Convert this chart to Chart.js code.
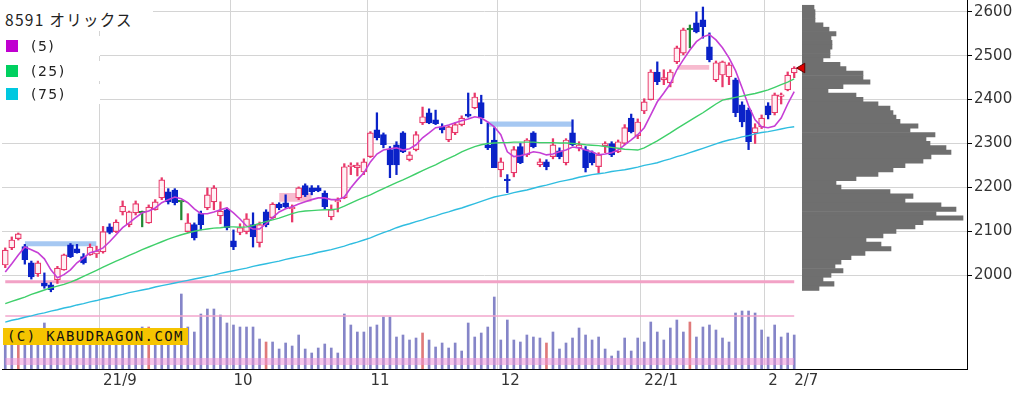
<!DOCTYPE html>
<html><head><meta charset="utf-8">
<script src="https://cdn.jsdelivr.net/npm/chart.js@4.4.1/dist/chart.umd.min.js"></script>
<style>
html,body{margin:0;padding:0;background:#fff;}
#wrap{position:relative;width:1025px;height:398px;overflow:hidden;background:#fff;}
#main{position:absolute;left:0;top:0;}
#prof{position:absolute;left:790px;top:0;}
#legend{position:absolute;left:0;top:0;font-family:"DejaVu Sans",sans-serif;color:#222;}
#legend .title{position:absolute;left:0;top:0;width:153px;height:31px;background:#fff;font-family:"Noto Sans CJK JP",sans-serif;font-size:15.5px;letter-spacing:1.3px;line-height:15px;}
#legend .title span{position:absolute;left:5px;top:12px;}
#legend .row{position:absolute;left:0;width:100px;height:20px;background:#fff;font-size:14px;letter-spacing:1.5px;}
#legend .sq{position:absolute;left:6px;top:4px;width:12px;height:12px;}
#legend .txt{position:absolute;left:31px;top:2px;line-height:16px;}
#copy{position:absolute;left:3px;top:328px;width:185px;height:17px;background:#f5c400;font-family:"DejaVu Sans Mono",monospace;font-size:14px;letter-spacing:1.4px;line-height:17px;color:#111;padding-left:4px;box-sizing:border-box;white-space:nowrap;}
</style></head><body>
<div id="wrap">
<canvas id="main" width="1025" height="398"></canvas>
<canvas id="prof" width="177" height="398"></canvas>
<div id="legend"></div>
<div id="copy">(C) KABUDRAGON.COM</div>
</div>
<script>
// ---------------- data ----------------
const chartTitle = '8591 オリックス';
const dates = [
 '8/11','8/12','8/13','8/16','8/17','8/18','8/19','8/20','8/23','8/24','8/25','8/26','8/27','8/30','8/31',
 '9/1','9/2','9/3','9/6','9/7','9/8','9/9','9/10','9/13','9/14','9/15','9/16','9/17','9/21','9/22','9/24','9/27','9/28','9/29','9/30',
 '10/1','10/4','10/5','10/6','10/7','10/8','10/11','10/12','10/13','10/14','10/15','10/18','10/19','10/20','10/21','10/22','10/25','10/26','10/27','10/28','10/29',
 '11/1','11/2','11/4','11/5','11/8','11/9','11/10','11/11','11/12','11/15','11/16','11/17','11/18','11/19','11/22','11/24','11/25','11/26','11/29','11/30',
 '12/1','12/2','12/3','12/6','12/7','12/8','12/9','12/10','12/13','12/14','12/15','12/16','12/17','12/20','12/21','12/22','12/23','12/24','12/27','12/28','12/29','12/30',
 '1/4','1/5','1/6','1/7','1/11','1/12','1/13','1/14','1/17','1/18','1/19','1/20','1/21','1/24','1/25','1/26','1/27','1/28','1/31',
 '2/1','2/2','2/3','2/4','2/7'];
const tickDates = ['9/1','10/1','11/1','12/1','1/4','2/1','2/7'];
const tickTexts = ['21/9','10','11','12','22/1','2','2/7'];
const monthStartDates = ['9/1','10/1','11/1','12/1','1/4','2/1'];
const priceTicks = [2000,2100,2200,2300,2400,2500,2600];

const opens = [2023,2062,2083,2065,2028,2003,1982,1978,1989,2012,2069,2060,2042,2046,2048,
 2053,2110,2099,2144,2115,2142,2142,2119,2149,2176,2190,2194,2167,2099,2115,2140,2153,2167,2135,2149,
 2078,2097,2099,2115,2074,2144,2131,2162,2165,2151,2176,2204,2199,2199,2187,2133,2167,2176,2247,2245,2235,
 2270,2331,2320,2286,2297,2324,2263,2286,2347,2370,2354,2338,2308,2324,2343,2367,2381,2393,2297,2308,
 2240,2219,2233,2293,2274,2324,2251,2258,2270,2283,2256,2324,2290,2286,2279,2247,2295,2300,2281,2300,2358,2318,
 2374,2400,2463,2445,2438,2486,2506,2559,2575,2582,2520,2445,2456,2452,2445,2388,2376,2324,2338,
 2386,2370,2407,2422,2461];
const highs = [2062,2087,2096,2070,2032,2032,2005,1983,2020,2048,2072,2070,2049,2071,2066,
 2111,2117,2126,2169,2146,2169,2146,2160,2172,2222,2197,2197,2167,2140,2119,2146,2199,2204,2167,2153,
 2103,2117,2140,2142,2121,2149,2165,2165,2183,2160,2201,2208,2204,2204,2192,2160,2176,2254,2256,2256,2265,
 2327,2370,2324,2293,2304,2327,2281,2327,2383,2379,2376,2345,2340,2347,2363,2415,2415,2410,2347,2336,
 2267,2229,2293,2300,2311,2327,2265,2263,2311,2290,2311,2354,2304,2293,2283,2279,2304,2304,2308,2343,2367,2356,
 2402,2468,2486,2468,2468,2522,2563,2570,2600,2611,2552,2488,2488,2484,2449,2395,2381,2345,2365,
 2393,2415,2415,2463,2475];
const lows = [2017,2058,2080,2025,1991,1997,1970,1962,1981,2011,2040,2050,2025,2045,2040,
 2050,2094,2097,2137,2110,2137,2110,2118,2148,2172,2162,2160,2126,2097,2080,2103,2149,2149,2117,2103,
 2058,2092,2094,2064,2064,2110,2128,2149,2153,2121,2172,2179,2183,2190,2150,2126,2144,2174,2229,2226,2229,
 2268,2308,2290,2222,2229,2279,2260,2283,2343,2345,2343,2324,2304,2320,2340,2360,2379,2345,2286,2245,
 2224,2188,2224,2254,2270,2290,2247,2240,2265,2265,2251,2295,2283,2235,2251,2233,2279,2270,2279,2297,2324,2311,
 2368,2399,2434,2434,2429,2482,2502,2518,2552,2540,2486,2441,2429,2434,2361,2338,2286,2300,2334,
 2356,2365,2390,2420,2450];
const closes = [2057,2080,2094,2035,1996,2028,1975,1967,2016,2046,2042,2051,2028,2064,2055,
 2099,2097,2121,2157,2144,2163,2142,2155,2167,2217,2167,2165,2167,2119,2085,2115,2183,2199,2146,2108,
 2064,2108,2128,2087,2115,2115,2162,2153,2156,2155,2199,2183,2190,2192,2156,2149,2170,2247,2251,2251,2258,
 2324,2313,2297,2251,2251,2281,2274,2320,2361,2347,2345,2331,2338,2343,2358,2362,2406,2358,2290,2245,
 2258,2215,2286,2256,2308,2293,2258,2247,2297,2270,2308,2297,2297,2245,2256,2274,2300,2274,2304,2336,2327,2349,
 2395,2463,2441,2450,2463,2518,2559,2559,2554,2566,2491,2484,2486,2479,2370,2349,2304,2336,2358,
 2365,2411,2411,2456,2472];
const volumes = [360,396,336,432,408,360,552,420,372,348,384,324,360,336,312,
 408,360,384,420,360,396,504,504,384,432,408,444,900,504,444,660,720,720,648,552,
 528,504,504,504,360,324,324,240,312,276,408,240,192,252,300,252,192,660,528,444,444,
 504,528,624,624,384,408,348,372,432,348,264,312,252,312,216,552,384,432,504,864,
 348,588,348,324,408,384,372,312,444,240,312,372,492,408,348,384,240,156,216,372,216,372,
 324,564,444,348,492,588,444,564,384,504,528,468,372,324,672,696,696,672,468,
 384,528,384,432,408];
const sqDates = ['8/13','9/10','10/8','11/12','12/10','1/14'];
const ma5 = [2007,2026,2046,2064,2058,2051,2037,2012,1994,2001,2012,2028,2039,2051,2055,
 2062,2076,2092,2108,2119,2131,2142,2146,2153,2165,2172,2178,2174,2165,2151,2140,2140,2144,2149,2153,
 2142,2128,2112,2105,2105,2117,2131,2144,2151,2156,2162,2167,2172,2176,2176,2172,2172,2178,2199,2217,2233,
 2258,2276,2285,2288,2290,2285,2288,2297,2313,2324,2336,2338,2342,2347,2352,2356,2361,2358,2349,2338,
 2320,2281,2270,2272,2276,2281,2279,2274,2276,2281,2285,2292,2290,2285,2281,2274,2276,2279,2285,2297,2308,2320,
 2336,2365,2395,2415,2436,2468,2491,2513,2532,2543,2548,2536,2518,2495,2466,2427,2386,2354,2338,
 2336,2340,2358,2390,2418];
const ma25 = [1935,1940,1945,1950,1956,1961,1966,1971,1975,1979,1984,1990,1997,2004,2011,
 2018,2025,2032,2038,2045,2051,2058,2064,2070,2076,2082,2087,2092,2096,2100,2103,2105,2107,2108,2110,
 2110,2109,2110,2113,2118,2122,2126,2130,2135,2140,2144,2146,2147,2148,2149,2149,2151,2157,2164,2171,2177,
 2183,2190,2197,2204,2211,2217,2224,2231,2238,2245,2251,2259,2266,2273,2281,2287,2293,2297,2300,2301,
 2302,2302,2303,2303,2303,2303,2302,2302,2302,2301,2301,2300,2299,2297,2296,2295,2293,2291,2289,2287,2286,2285,
 2290,2298,2306,2315,2324,2334,2343,2352,2361,2370,2380,2390,2399,2402,2405,2408,2411,2414,2418,
 2422,2428,2434,2440,2447];
const ma75 = [1893,1897,1900,1904,1907,1911,1914,1918,1921,1925,1928,1932,1935,1939,1942,
 1946,1949,1953,1956,1960,1963,1966,1969,1973,1976,1979,1982,1985,1988,1991,1994,1997,2000,2004,2007,
 2010,2013,2016,2020,2023,2026,2029,2032,2036,2039,2042,2045,2048,2052,2055,2058,2062,2066,2071,2075,2080,
 2085,2091,2097,2102,2108,2113,2117,2122,2126,2131,2135,2140,2144,2149,2153,2158,2163,2168,2173,2178,
 2181,2184,2188,2191,2194,2198,2202,2205,2209,2213,2216,2219,2223,2226,2229,2231,2233,2236,2238,2240,2243,2246,
 2250,2253,2256,2261,2265,2270,2274,2279,2284,2289,2294,2299,2304,2308,2311,2315,2318,2322,2325,
 2327,2330,2333,2336,2338];
// price gaps (窓)
const gapFrom = ['8/16','10/12','11/29','1/12'];
const gapTo   = ['8/31','10/19','12/16','1/19'];
const gapLow  = [2066,2167,2338,2468];
const gapHigh = [2077,2187,2350,2479];
const gapDir  = ['down','up','down','up'];
// horizontal reference lines
const supportPrice = 1985;
const resistPrice = 2400, resistFrom = '1/6', resistTo = '1/24';
const volAvg = 636;
const volBandLow = 48, volBandHigh = 132;
// price-by-volume profile
const profPrices = [2610,2600,2590,2580,2570,2560,2550,2540,2530,2520,2510,2500,2490,2480,2470,2460,2450,2440,2430,2420,
 2410,2400,2390,2380,2370,2360,2350,2340,2330,2320,2310,2300,2290,2280,2270,2260,2250,2240,2230,2220,
 2210,2200,2190,2180,2170,2160,2150,2140,2130,2120,2110,2100,2090,2080,2070,2060,2050,2040,2030,2020,
 2010,2000,1990,1980,1970];
const profVolumes = [240,260,260,260,420,540,680,580,600,600,560,560,420,760,880,1220,1220,1360,820,520,
 1080,1220,1520,1760,1820,1880,1960,2320,2160,2660,2480,2560,2880,2980,2580,2420,2060,1820,1520,1080,
 680,780,1760,2220,2060,2780,3080,2680,3220,2420,2260,1880,1620,1280,1580,1780,1260,980,780,660,
 820,580,420,640,340];
const maNames = ['(5)','(25)','(75)'];

// ---------------- styles ----------------
const UP = '#e8386a', UP_FILL = '#fff0f4', DOWN = '#0a22c8', DOJI = '#228833';
const MA_COLORS = ['#c63fd6','#3fcf6a','#2fbde0'];
const LEGEND_COLORS = ['#c000d0','#00d060','#00c8e0'];
const FONT = {family:'"DejaVu Sans", sans-serif', size:15};

const N = dates.length;
const labels = dates.concat(Array(26).fill(''));
const idx = d => dates.indexOf(d);
const kind = i => closes[i] > opens[i] ? 'up' : (closes[i] < opens[i] ? 'down' : 'doji');
const lineCol = i => ({up:UP, down:DOWN, doji:DOJI})[kind(i)];
const fillCol = i => ({up:UP_FILL, down:DOWN, doji:DOJI})[kind(i)];
const rangeSeries = (from, to, v) => dates.map((d,i) => (i >= idx(from) && i <= idx(to)) ? v : null);

// legend
const lg = document.getElementById('legend');
lg.innerHTML = '<div class="title"><span>' + chartTitle + '</span></div>' +
  maNames.map((n,k) => '<div class="row" style="top:' + [36,61,84][k] + 'px"><div class="sq" style="background:' + LEGEND_COLORS[k] + '"></div><div class="txt">' + n + '</div></div>').join('');

const datasets = [];
gapFrom.forEach((f,g) => {
  const col = gapDir[g] === 'down' ? 'rgba(150,190,240,0.85)' : 'rgba(245,170,195,0.8)';
  datasets.push({type:'line', data: rangeSeries(f, gapTo[g], gapLow[g]), borderWidth:0, pointRadius:0, order:10, fill:false});
  datasets.push({type:'line', data: rangeSeries(f, gapTo[g], gapHigh[g]), borderWidth:0, pointRadius:0, order:10, fill:'-1', backgroundColor: col});
});
datasets.push({type:'line', data: dates.map(() => supportPrice), borderColor:'#f2a2c6', borderWidth:3, pointRadius:0, order:9});
datasets.push({type:'line', data: rangeSeries(resistFrom, resistTo, resistPrice), borderColor:'#f0a8c8', borderWidth:1.5, pointRadius:0, order:9});
datasets.push({type:'bar', yAxisID:'yv', data: volumes, backgroundColor: dates.map(d => sqDates.includes(d) ? '#e07a7a' : '#8585c8'), barThickness:2, grouped:false, order:8});
datasets.push({type:'line', yAxisID:'yv', data: dates.map(() => volBandLow), borderWidth:0, pointRadius:0, order:7, fill:false});
datasets.push({type:'line', yAxisID:'yv', data: dates.map(() => volBandHigh), borderWidth:0, pointRadius:0, order:7, fill:'-1', backgroundColor:'rgba(238,150,215,0.55)'});
datasets.push({type:'line', yAxisID:'yv', data: dates.map(() => volAvg), borderColor:'#f2a6cc', borderWidth:1.5, pointRadius:0, order:7});
datasets.push({type:'bar', data: lows.map((l,i) => [l, highs[i]]), backgroundColor: dates.map((d,i) => lineCol(i)), barThickness:1.6, grouped:false, order:4});
datasets.push({type:'bar', data: opens.map((o,i) => [o, closes[i]]), backgroundColor: dates.map((d,i) => fillCol(i)), borderColor: dates.map((d,i) => lineCol(i)), borderWidth:1.2, borderSkipped:false, barThickness:6, minBarLength:1.5, grouped:false, order:3});
[ma75, ma25, ma5].forEach((m,k) => {
  datasets.push({type:'line', data:m, borderColor: MA_COLORS[2-k], borderWidth: k === 2 ? 1.6 : 1.4, pointRadius:0, tension:0, order:1});
});

new Chart(document.getElementById('main'), {
  type:'bar',
  data:{labels, datasets},
  options:{
    responsive:false, animation:false, devicePixelRatio:1,
    layout:{autoPadding:false, padding:{left:2,right:0,top:0,bottom:0}},
    plugins:{legend:{display:false}, tooltip:{enabled:false}},
    scales:{
      x:{type:'category', offset:true,
        grid:{offset:true, drawTicks:false, lineWidth:1,
          color: c => (c.index < N && monthStartDates.includes(dates[c.index])) ? '#d4d4d4' : 'rgba(0,0,0,0)'},
        border:{display:true, color:'#000', width:1},
        ticks:{autoSkip:false, maxRotation:0, minRotation:0, align:'start', padding:3, color:'#333', font:FONT,
          callback: function(v, i){ const d = dates[i]; const k = tickDates.indexOf(d); return k >= 0 ? tickTexts[k] : ''; }},
        afterFit: s => { s.height = 29; s.paddingLeft = 0; s.paddingRight = 0; }
      },
      y:{type:'linear', position:'right', min:1786, max:2627, offset:false,
        afterBuildTicks: s => { s.ticks = priceTicks.map(v => ({value:v})); },
        grid:{color:'#d4d4d4', lineWidth:1, tickLength:5, tickColor:'#000'},
        border:{display:true, color:'#000', width:1},
        ticks:{padding:2, color:'#333', font:FONT, callback: v => String(v)},
        afterFit: s => { s.width = 58; s.paddingTop = 0; s.paddingBottom = 0; }
      },
      yv:{type:'linear', display:false, min:0, max:4428, offset:false}
    }
  }
});

new Chart(document.getElementById('prof'), {
  type:'bar',
  data:{datasets:[
    {type:'scatter', data:[{x:0, y:closes[N-1]}], pointStyle:'triangle', rotation:-90, pointRadius:5.5, backgroundColor:'#e00000', borderColor:'#600000', borderWidth:1, clip:false, order:1},
    {type:'bar', data: profPrices.map((p,i) => ({x: profVolumes[i], y: p})), backgroundColor:'#6f6f6f', borderWidth:0, barPercentage:1, categoryPercentage:1, order:2}
  ]},
  options:{
    indexAxis:'y', responsive:false, animation:false, devicePixelRatio:1,
    layout:{autoPadding:false, padding:{left:12,right:0,top:0,bottom:29}},
    plugins:{legend:{display:false}, tooltip:{enabled:false}},
    scales:{
      x:{type:'linear', display:false, min:0, max:3300, offset:false},
      y:{type:'linear', display:false, min:1786, max:2627, offset:false}
    }
  }
});
</script>
</body></html>
